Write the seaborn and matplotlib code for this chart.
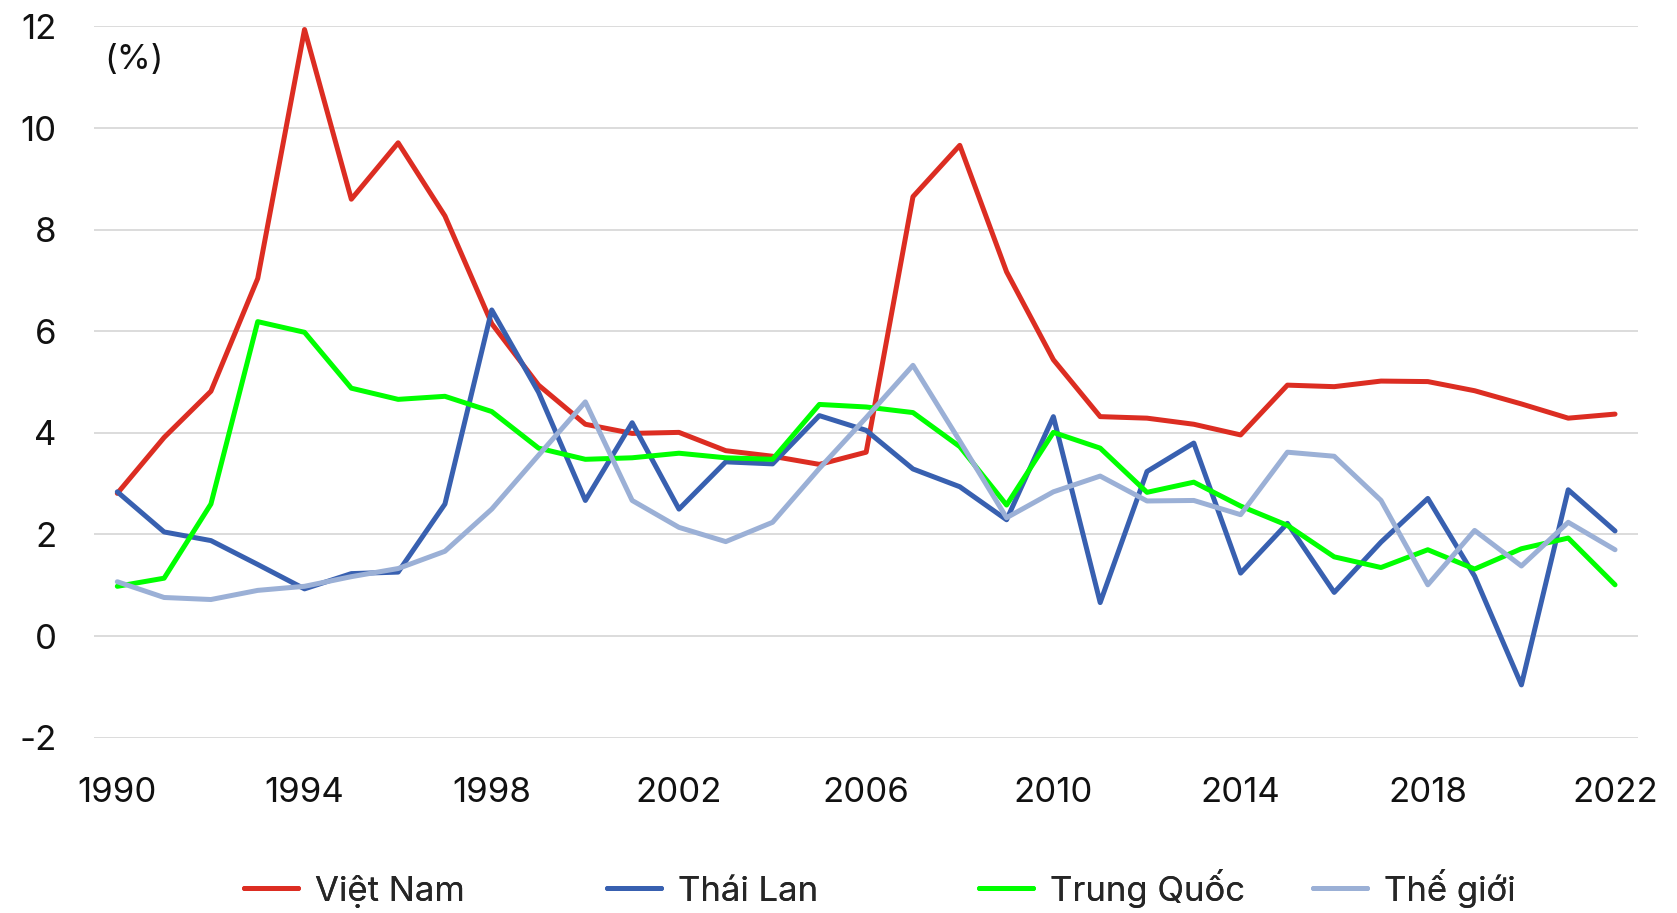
import numpy as np
import pandas as pd
import matplotlib
matplotlib.use("Agg")
import matplotlib.pyplot as plt
import seaborn as sns

years = list(range(1990, 2023))

viet_nam = [2.81, 3.91, 4.82, 7.04, 11.94, 8.60, 9.71, 8.27, 6.15, 4.94, 4.17,
            3.99, 4.01, 3.65, 3.54, 3.38, 3.62, 8.65, 9.66, 7.17, 5.44, 4.32,
            4.29, 4.17, 3.96, 4.94, 4.91, 5.02, 5.01, 4.83, 4.57, 4.29, 4.37]
thai_lan = [2.84, 2.05, 1.88, 1.41, 0.93, 1.23, 1.26, 2.60, 6.42, 4.80, 2.67,
            4.20, 2.50, 3.43, 3.39, 4.34, 4.05, 3.29, 2.94, 2.29, 4.32, 0.66,
            3.24, 3.80, 1.24, 2.22, 0.86, 1.85, 2.71, 1.18, -0.96, 2.88, 2.07]
trung_quoc = [0.98, 1.14, 2.60, 6.19, 5.98, 4.88, 4.66, 4.72, 4.42, 3.70, 3.48,
              3.51, 3.60, 3.51, 3.48, 4.56, 4.51, 4.40, 3.73, 2.58, 4.01, 3.70,
              2.83, 3.03, 2.56, 2.18, 1.56, 1.35, 1.70, 1.32, 1.72, 1.93, 1.01]
the_gioi = [1.07, 0.76, 0.72, 0.90, 0.98, 1.17, 1.33, 1.67, 2.50, 3.56, 4.61,
            2.67, 2.14, 1.86, 2.24, 3.30, 4.30, 5.33, 3.84, 2.33, 2.84, 3.15,
            2.66, 2.67, 2.39, 3.62, 3.54, 2.67, 1.01, 2.08, 1.38, 2.24, 1.70]

series_names = ["Việt Nam", "Thái Lan", "Trung Quốc", "Thế giới"]
colors = ["#dc2d22", "#3860b0", "#00ff00", "#9bb0d6"]

x_ticks = list(range(1990, 2023, 4))
y_ticks = list(range(-2, 13, 2))

frames = []
for name, vals in zip(series_names, [viet_nam, thai_lan, trung_quoc, the_gioi]):
    frames.append(pd.DataFrame({"year": years, "value": vals, "series": name}))
df = pd.concat(frames, ignore_index=True)

sns.set_style("white")
plt.rcParams["font.family"] = ["Inter", "DejaVu Sans"]
plt.rcParams["axes.unicode_minus"] = False

fig = plt.figure(figsize=(16.77, 9.13), dpi=100)
ax = fig.add_axes([0.056, 0.192, 0.921, 0.779])

sns.lineplot(data=df, x="year", y="value", hue="series", hue_order=series_names,
             palette=colors, linewidth=3.6, ax=ax)

ax.set_xlim(1989.5, 2022.5)
ax.set_ylim(-2, 12)
ax.set_xticks(x_ticks)
ax.set_yticks(y_ticks)
ax.tick_params(axis="both", length=0, labelsize=25, colors="#111111")
ax.tick_params(axis="x", pad=28)
ax.tick_params(axis="y", pad=27)
ax.grid(axis="y", color="#d9d9d9", linewidth=1.3)
ax.set_axisbelow(True)
for s in ax.spines.values():
    s.set_visible(False)
ax.set_xlabel("")
ax.set_ylabel("")

ax.text(0.007, 0.953, "(%)", transform=ax.transAxes, fontsize=25,
        va="center", ha="left", color="#111111")

handles, labels = ax.get_legend_handles_labels()
ax.get_legend().remove()
# each entry placed at its own spot like the original, bottoms lined up
legend_x = [244, 607, 979, 1313]
for h, lab, xpix in zip(handles, labels, legend_x):
    leg = fig.legend([h], [lab], loc="lower left",
                     bbox_to_anchor=(xpix / 1677, 0.006), frameon=False,
                     fontsize=25, handlelength=1.55, handletextpad=0.5,
                     borderpad=0, borderaxespad=0)
    fig.add_artist(leg)

fig.savefig("out.png", dpi=100)
